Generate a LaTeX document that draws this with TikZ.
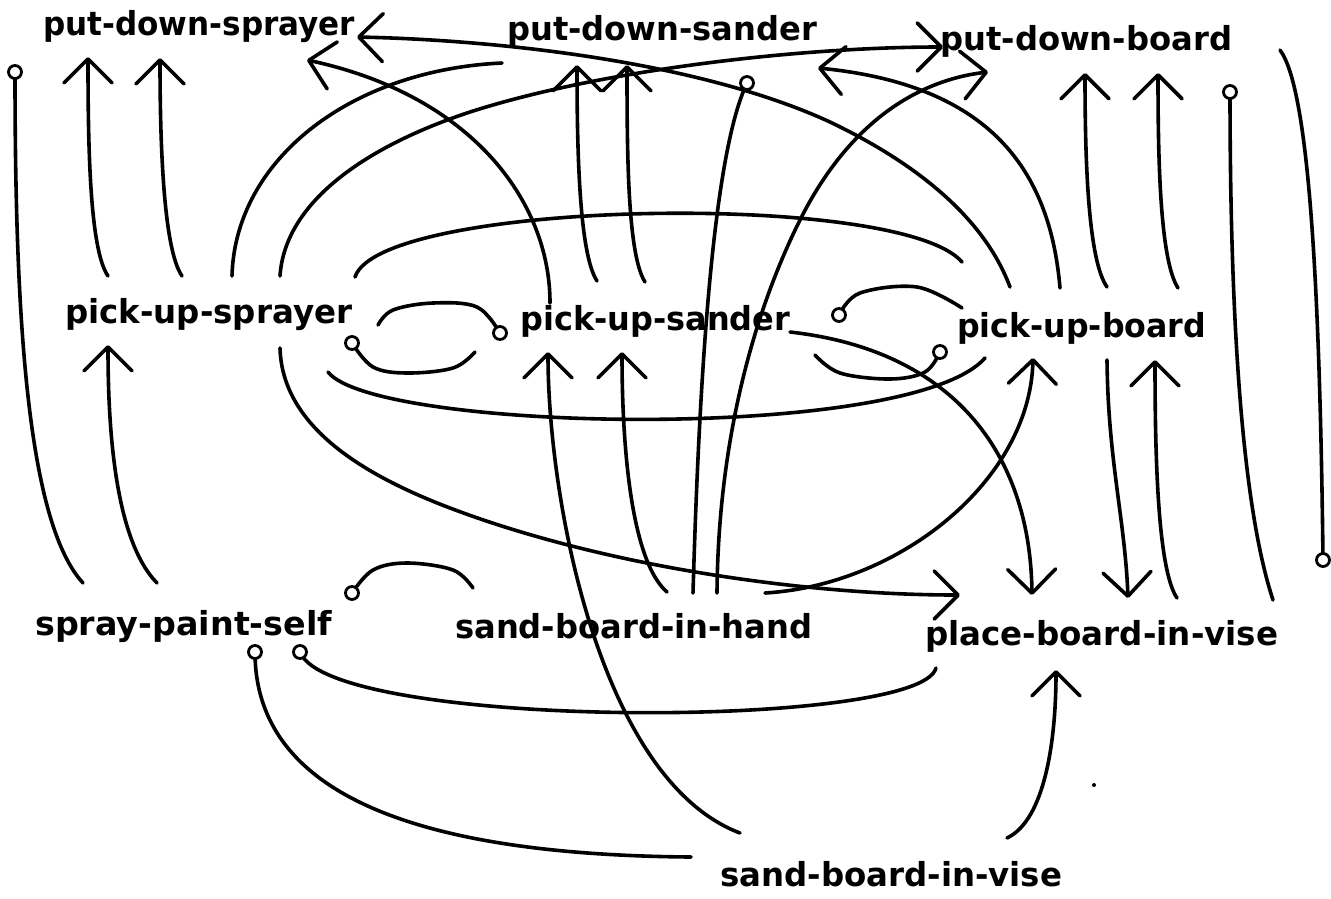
\documentclass[tikz,border=0pt]{standalone}
\usepackage{fontspec}
\setmainfont{DejaVu Sans}
\usepackage{graphicx}
\usetikzlibrary{arrows.meta}
\newlength\lblw
\newcommand\fitw[2]{\settowidth{\lblw}{#2}\pgfmathsetmacro\lblsx{#1/\lblw}\scalebox{\lblsx}[1]{#2}}
\begin{document}
\begin{tikzpicture}[x=1pt,y=-1pt,
  wire/.style={line width=3.6pt,line cap=round,line join=round},
  arr/.style={wire,-{Straight Barb[length=24pt,width=48pt,round]}},
  ring/.style={circle,draw,fill=white,line width=2.8pt,minimum size=13pt,inner sep=0pt},
  lbl/.style={anchor=base west,inner sep=0pt,font=\fontsize{33}{38}\selectfont\bfseries},
  sm/.style={smooth,tension=0.6}]
\useasboundingbox (0,0) rectangle (1331,898);
% ---------- labels
\node[lbl] (pds)  at (43,35)   {\fitw{312}{put-down-sprayer}};
\node[lbl] (pdsa) at (507,40)  {\fitw{310}{put-down-sander}};
\node[lbl] (pdb)  at (940,50)  {\fitw{292}{put-down-board}};
\node[lbl] (pus)  at (65,323)  {\fitw{287}{pick-up-sprayer}};
\node[lbl] (pusa) at (520,330) {\fitw{270}{pick-up-sander}};
\node[lbl] (pub)  at (957,337) {\fitw{249}{pick-up-board}};
\node[lbl] (sps)  at (35,635)  {\fitw{297}{spray-paint-self}};
\node[lbl] (sbh)  at (455,638) {\fitw{357}{sand-board-in-hand}};
\node[lbl] (pbv)  at (925,645) {\fitw{353}{place-board-in-vise}};
\node[lbl] (sbv)  at (720,886) {\fitw{342}{sand-board-in-vise}};
% ---------- connector end points
\coordinate (pds-b1) at (88,57);   \coordinate (pds-b2) at (160,58);
\coordinate (pds-r1) at (357,37);  \coordinate (pds-r2) at (307,60);
\coordinate (pdsa-l) at (502,63);  \coordinate (pdsa-b1) at (577,65);
\coordinate (pdsa-b2) at (627,65); \coordinate (pdsa-r) at (818,68);
\coordinate (pdb-l1) at (943,47);  \coordinate (pdb-l2) at (988,72);
\coordinate (pdb-b1) at (1085,73); \coordinate (pdb-b2) at (1158,73);
\coordinate (pdb-r) at (1280,50);
\coordinate (pus-t1) at (108,276); \coordinate (pus-t2) at (182,276);
\coordinate (pus-t3) at (232,276); \coordinate (pus-t4) at (280,276);
\coordinate (pus-r1) at (355,277); \coordinate (pus-r2) at (378,325);
\coordinate (pus-r3) at (328,372); \coordinate (pus-b1) at (280,348);
\coordinate (pus-b2) at (108,345);
\coordinate (pusa-t1) at (550,303); \coordinate (pusa-t2) at (597,281);
\coordinate (pusa-t3) at (645,282); \coordinate (pusa-r1) at (790,332);
\coordinate (pusa-r2) at (815,355); \coordinate (pusa-b1) at (548,352);
\coordinate (pusa-b2) at (622,352); \coordinate (pusa-l) at (475,352);
\coordinate (pub-t1) at (1010,287); \coordinate (pub-t2) at (1060,288);
\coordinate (pub-t3) at (1107,287); \coordinate (pub-t4) at (1178,288);
\coordinate (pub-l1) at (962,262);  \coordinate (pub-l2) at (962,308);
\coordinate (pub-l3) at (985,358);  \coordinate (pub-b1) at (1033,358);
\coordinate (pub-b2) at (1107,360); \coordinate (pub-b3) at (1155,360);
\coordinate (sps-t1) at (83,583);  \coordinate (sps-t2) at (157,583);
\coordinate (sbh-t1) at (667,592); \coordinate (sbh-t2) at (693,593);
\coordinate (sbh-t3) at (717,593); \coordinate (sbh-t4) at (765,593);
\coordinate (sbh-l) at (473,588);
\coordinate (pbv-t1) at (960,595); \coordinate (pbv-t2) at (1032,595);
\coordinate (pbv-t3) at (1128,598); \coordinate (pbv-t4) at (1177,598);
\coordinate (pbv-t5) at (1273,600); \coordinate (pbv-b1) at (936,668);
\coordinate (pbv-b2) at (1056,670);
\coordinate (sbv-t1) at (740,833); \coordinate (sbv-l) at (691,857);
\coordinate (sbv-t2) at (1007,838);
% ring centres
\coordinate (ra) at (15,72);   \coordinate (rb) at (747,83);
\coordinate (rc) at (1230,92); \coordinate (rd) at (1323,560);
\coordinate (re) at (500,333); \coordinate (rf) at (352,343);
\coordinate (rg) at (352,593); \coordinate (rh) at (839,315);
\coordinate (ri) at (940,352); \coordinate (rj) at (255,652);
\coordinate (rk) at (300,652);
% ---------- plain lines
\draw[wire] (sps-t1) .. controls (25,520) and (15,300) .. (ra);
\draw[wire] (pus-t3) .. controls (235,160) and (350,70) .. (pdsa-l);
\draw[wire] (sbh-t2) .. controls (700,350) and (715,150) .. (rb);
\draw[wire] (pbv-t5) .. controls (1240,500) and (1230,300) .. (rc);
\draw[wire] (pdb-r) .. controls (1310,90) and (1320,300) .. (rd);
\draw[wire] (pus-r1) .. controls (380,200) and (900,190) .. (pub-l1);
\draw[wire] plot[sm] coordinates {(pus-r2) (393,310) (433,303) (477,307) (re)};
\draw[wire] plot[sm] coordinates {(rf) (373,367) (407,373) (453,368) (pusa-l)};
\draw[wire] (pus-r3) .. controls (375,432) and (910,443) .. (pub-l3);
\draw[wire] plot[sm] coordinates {(rg) (373,570) (407,563) (453,570) (sbh-l)};
\draw[wire] plot[sm] coordinates {(rh) (860,293) (917,287) (pub-l2)};
\draw[wire] plot[sm] coordinates {(pusa-r2) (840,373) (890,379) (925,372) (ri)};
\draw[wire] (sbv-l) .. controls (430,855) and (255,800) .. (rj);
\draw[wire] (pbv-b1) .. controls (920,730) and (330,730) .. (rk);
% ---------- arrows
\draw[arr] (pus-t1) .. controls (90,250) and (88,150) .. (pds-b1);
\draw[arr] (pus-t2) .. controls (164,250) and (160,150) .. (pds-b2);
\draw[arr] (pus-t4) .. controls (285,200) and (370,145) .. (470,112) .. controls (600,70) and (800,47) .. (pdb-l1);
\draw[arr] (pub-t1) .. controls (985,220) and (920,165) .. (830,122) .. controls (700,62) and (500,40) .. (pds-r1);
\draw[arr] (pub-t2) .. controls (1050,170) and (990,85) .. (pdsa-r);
\draw[arr] (sbh-t3) .. controls (718,450) and (750,320) .. (800,220) .. controls (850,120) and (920,80) .. (pdb-l2);
\draw[arr] (pusa-t1) .. controls (550,200) and (470,95) .. (pds-r2);
\draw[arr] (pusa-t2) .. controls (580,255) and (577,160) .. (pdsa-b1);
\draw[arr] (pusa-t3) .. controls (628,255) and (627,160) .. (pdsa-b2);
\draw[arr] (pub-t3) .. controls (1088,260) and (1085,160) .. (pdb-b1);
\draw[arr] (pub-t4) .. controls (1160,260) and (1158,160) .. (pdb-b2);
\draw[arr] (pus-b1) .. controls (282,420) and (350,470) .. (450,508) .. controls (600,565) and (800,595) .. (pbv-t1);
\draw[arr] (pusa-r1) .. controls (950,350) and (1030,450) .. (pbv-t2);
\draw[arr] (sbh-t4) .. controls (900,585) and (1030,480) .. (pub-b1);
\draw[arr] (pub-b2) .. controls (1108,460) and (1125,520) .. (pbv-t3);
\draw[arr] (pbv-t4) .. controls (1158,570) and (1155,460) .. (pub-b3);
\draw[arr] (sps-t2) .. controls (115,540) and (108,430) .. (pus-b2);
\draw[arr] (sbh-t1) .. controls (630,560) and (622,440) .. (pusa-b2);
\draw[arr] (sbv-t1) .. controls (600,780) and (548,500) .. (pusa-b1);
\draw[arr] (sbv-t2) .. controls (1045,820) and (1056,740) .. (pbv-b2);
% ---------- rings
\foreach \r in {ra,rb,rc,rd,re,rf,rg,rh,ri,rj,rk} \node[ring] (\r-o) at (\r) {};
% stray speck
\fill (1094,785) circle (2);
\end{tikzpicture}
\end{document}
